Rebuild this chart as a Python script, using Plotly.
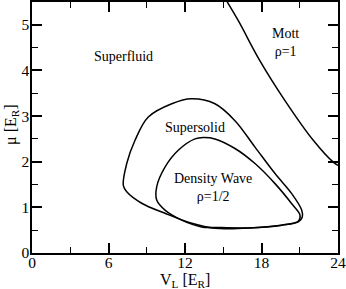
import plotly.graph_objects as go

# Mott boundary
mott_x = [15.10, 16.18, 17.88, 19.84, 22.06, 23.63, 24.0]
mott_y = [5.60, 5.09, 4.21, 3.34, 2.47, 1.99, 1.92]

# Supersolid (outer) loop, closed
ss_x = [12.5, 14.35, 15.92, 17.49, 19.06, 20.37, 21.15, 21.2, 20.89, 19.58, 16.97, 14.35,
        12.53, 10.43, 8.6, 7.43, 7.16, 7.43, 8.08, 9.12, 10.96, 12.5]
ss_y = [3.38, 3.27, 2.90, 2.32, 1.74, 1.30, 0.94, 0.79, 0.68, 0.61, 0.55, 0.54,
        0.65, 0.87, 1.09, 1.34, 1.48, 1.96, 2.47, 2.98, 3.27, 3.38]

# Density wave (inner) loop, closed
dw_x = [13.44, 14.35, 15.92, 17.49, 19.06, 20.37, 21.02, 20.9, 19.58, 16.97, 14.35, 13.31,
        11.74, 10.43, 9.78, 9.78, 10.43, 11.47, 12.78, 13.44]
dw_y = [2.53, 2.50, 2.29, 1.96, 1.52, 1.08, 0.83, 0.70, 0.61, 0.55, 0.56, 0.57,
        0.72, 0.94, 1.16, 1.45, 1.88, 2.25, 2.50, 2.53]

labels = ["Superfluid", "Supersolid", "Density Wave<br>ρ=1/2", "Mott<br>ρ=1"]
label_x = [7.2, 12.8, 14.2, 19.9]
label_y = [4.3, 2.75, 1.43, 4.62]

x_ticks = [0, 6, 12, 18, 24]
y_ticks = [0, 1, 2, 3, 4, 5]

FONT = "Liberation Serif, Times New Roman, serif"

fig = go.Figure()
for xs, ys in [(mott_x, mott_y), (ss_x, ss_y), (dw_x, dw_y)]:
    fig.add_trace(go.Scatter(x=xs, y=ys, mode="lines",
                             line=dict(color="black", width=1.5, shape="spline", smoothing=1.0),
                             showlegend=False, hoverinfo="skip"))

for t, x, y in zip(labels, label_x, label_y):
    fig.add_annotation(x=x, y=y, text=t, showarrow=False,
                       font=dict(family=FONT, size=14, color="black"))

# axis titles
fig.add_annotation(xref="paper", yref="paper", x=0.5, y=-0.065, yanchor="top", showarrow=False,
                   text="V<sub>L</sub> [E<sub>R</sub>]", font=dict(family=FONT, size=16, color="black"))
fig.add_annotation(xref="paper", yref="paper", x=-0.028, y=0.51, xanchor="right", showarrow=False,
                   textangle=-90, text="μ [E<sub>R</sub>]", font=dict(family=FONT, size=16, color="black"))

axis_common = dict(showline=True, linecolor="black", linewidth=1.5, mirror="ticks",
                   ticks="inside", ticklen=10, tickwidth=1.5, tickcolor="black",
                   showgrid=False, zeroline=False, automargin=False,
                   tickfont=dict(family=FONT, size=15.5, color="black"))

fig.update_xaxes(range=[0, 24], tickvals=x_ticks, ticklabelstandoff=-5,
                 minor=dict(ticks="inside", ticklen=6, tickwidth=1, tickcolor="black", dtick=3, tick0=0),
                 **axis_common)
fig.update_yaxes(range=[0, 5.5], tickvals=y_ticks, ticklabelstandoff=-2,
                 minor=dict(ticks="inside", ticklen=6, tickwidth=1, tickcolor="black", dtick=0.5, tick0=0),
                 **axis_common)

fig.update_layout(width=346, height=289, margin=dict(l=32, r=8, t=2, b=36, autoexpand=False),
                  plot_bgcolor="white", paper_bgcolor="white")

fig.write_html("out.html", config={"displayModeBar": False},
               post_script="document.body.style.margin='0';")
